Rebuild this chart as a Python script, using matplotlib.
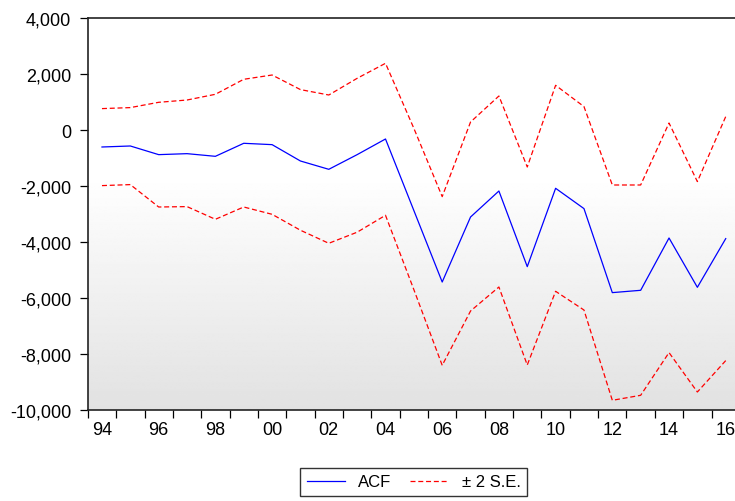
import numpy as np
import matplotlib
matplotlib.use("Agg")
import matplotlib.pyplot as plt
from matplotlib.ticker import FixedLocator, FuncFormatter

plt.rcParams['font.family'] = ['Liberation Sans', 'DejaVu Sans']
plt.rcParams['lines.scale_dashes'] = False

years = list(range(1994, 2017))
acf = [-607, -571, -880, -845, -940, -475, -523, -1107, -1404, -880, -321,
       -2875, -5429, -3107, -2179, -4880, -2082, -2807, -5808, -5725, -3857, -5618, -3879]
upper = [764, 800, 989, 1071, 1275, 1811, 1964, 1443, 1250, 1846, 2382,
         60, -2379, 286, 1214, -1321, 1596, 836, -1964, -1964, 250, -1843, 479]
lower = [-1986, -1950, -2750, -2736, -3189, -2750, -3011, -3580, -4046, -3650, -3046,
         -5700, -8404, -6464, -5607, -8393, -5761, -6429, -9654, -9475, -7950, -9357, -8236]
yticks = [-10000, -8000, -6000, -4000, -2000, 0, 2000, 4000]
xlabel_years = list(range(1994, 2017, 2))

W, H = 735, 502
fig = plt.figure(figsize=(W / 100, H / 100), dpi=100)
left, right, top, bottom = 87.8, 739.9, 19, 411
ax = fig.add_axes([left / W, 1 - bottom / H, (right - left) / W, (bottom - top) / H])

# gradient background
n = 256
frac = np.linspace(0, 1, n)  # 0 bottom -> 1 top
start = 0.6
vals = np.where(frac >= start, 1.0, 1.0 - (start - frac) / start * 0.115)
grad = np.repeat(vals[::-1, None], 2, axis=1)
ax.imshow(grad, cmap='gray', vmin=0, vmax=1, extent=[0, 1, 0, 1],
          transform=ax.transAxes, aspect='auto', zorder=0, interpolation='bilinear')

ax.plot(years, acf, color='#0000ff', lw=0.9, label='ACF', zorder=3)
ax.plot(years, upper, color='#ff0000', lw=0.9, dashes=(3.6, 2.0), label='± 2 S.E.', zorder=3)
ax.plot(years, lower, color='#ff0000', lw=0.9, dashes=(3.6, 2.0), zorder=3)

ax.set_xlim(1993.5, 2016.5)
ax.set_ylim(-10000, 4000)

ax.set_yticks(yticks)
ax.yaxis.set_major_formatter(FuncFormatter(lambda v, p: f"{int(v):,}"))
ax.tick_params(axis='y', direction='out', length=6, width=0.9, pad=6, labelsize=13)

ax.xaxis.set_major_locator(FixedLocator([y + 0.5 for y in range(1993, 2017)]))
ax.xaxis.set_major_formatter(FuncFormatter(lambda v, p: ""))
ax.xaxis.set_minor_locator(FixedLocator(xlabel_years))
ax.xaxis.set_minor_formatter(FuncFormatter(lambda v, p: f"{int(v) % 100:02d}"))
ax.tick_params(axis='x', which='major', direction='out', length=6, width=0.9)
ax.tick_params(axis='x', which='minor', length=0, pad=8, labelsize=13)

for s in ['left', 'top', 'bottom']:
    ax.spines[s].set_linewidth(1.2)
    ax.spines[s].set_color('#222222')
ax.spines['right'].set_visible(False)

leg = fig.legend(loc='center', bbox_to_anchor=(413.5 / W, 1 - 483 / H), ncol=2,
                 fontsize=12, frameon=True, fancybox=False, edgecolor='black',
                 handlelength=2.3, columnspacing=1.1, handletextpad=0.8,
                 borderpad=0.4, borderaxespad=0)
leg.get_frame().set_linewidth(1.0)

fig.savefig('out.png', dpi=100)
